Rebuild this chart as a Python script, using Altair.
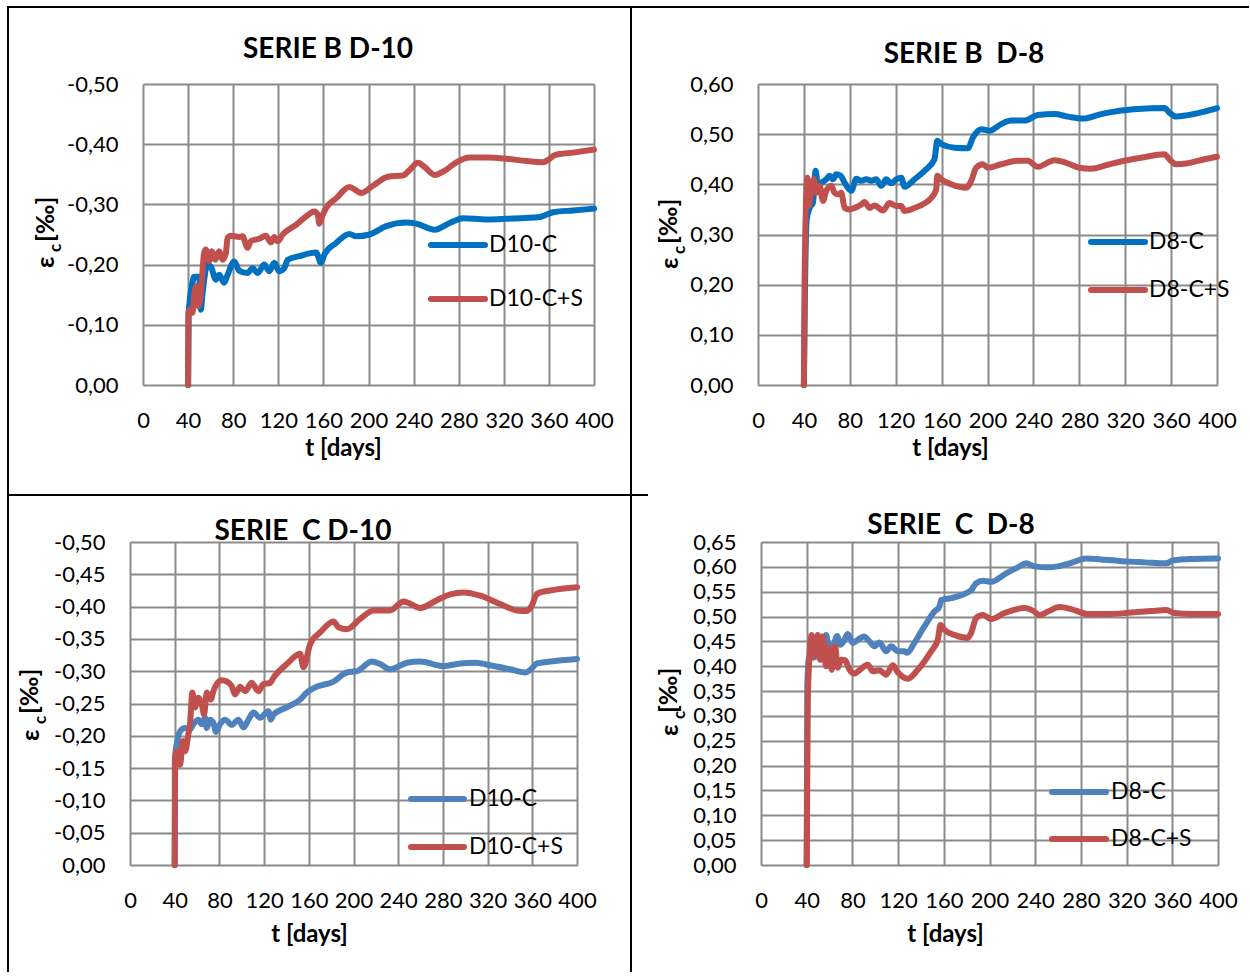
import altair as alt
import pandas as pd

FONT = "Lato"
GRID = "#8a8a8a"
BLUE_B = "#0070C0"
BLUE_C = "#4F81BD"
RED = "#C0504D"

X_TICKS = [0, 40, 80, 120, 160, 200, 240, 280, 320, 360, 400]

# ---------------- SERIE B D-10 ----------------
B10_NAMES = ["D10-C", "D10-C+S"]
B10_C_T = [40, 40.5, 43.9, 45.3, 49.8, 51.3, 52.7, 57.2, 60.1, 64.6, 67.6, 72, 75, 80.9, 85.3, 92.7, 97.2,
           101.6, 107.6, 112, 116.4, 120.9, 125.3, 128.3, 138.7, 153.5, 157.9, 160.9, 171.3, 183.1, 189,
           200.9, 215.7, 233.5, 242.4, 258.7, 272, 283.9, 304.6, 322, 352, 357.9, 363.9, 381.6, 400]
B10_C_E = [0, -0.12, -0.17, -0.18, -0.18, -0.125, -0.15, -0.20, -0.197, -0.175, -0.183, -0.17, -0.183,
           -0.205, -0.19, -0.186, -0.194, -0.186, -0.2, -0.189, -0.203, -0.189, -0.194, -0.208, -0.214,
           -0.22, -0.203, -0.217, -0.236, -0.251, -0.247, -0.25, -0.264, -0.27, -0.268, -0.258, -0.269,
           -0.277, -0.275, -0.276, -0.279, -0.283, -0.287, -0.29, -0.293]
B10_CS_T = [40, 40.3, 41.5, 43.9, 45.3, 47.4, 49.2, 51.3, 54.2, 55.7, 58.7, 61, 64, 67.6, 70.5, 73.5, 75,
            77.9, 85.3, 88.3, 92.7, 95.7, 103.1, 109, 113.5, 116.4, 119.4, 123.9, 135.7, 144.6, 152, 155,
            156.4, 158.8, 162.4, 171.3, 183.1, 193.5, 203.9, 217.2, 230.5, 236.4, 243.9, 249.8, 258.7,
            267.6, 277.9, 289.8, 304.6, 322.4, 340.1, 355, 359.4, 365.3, 381.6, 400]
B10_CS_E = [0, -0.12, -0.125, -0.12, -0.147, -0.164, -0.131, -0.153, -0.219, -0.225, -0.206, -0.222,
            -0.208, -0.222, -0.208, -0.219, -0.244, -0.248, -0.246, -0.247, -0.228, -0.239, -0.243,
            -0.248, -0.237, -0.246, -0.239, -0.25, -0.266, -0.28, -0.288, -0.283, -0.268, -0.28, -0.294,
            -0.31, -0.329, -0.319, -0.331, -0.346, -0.348, -0.357, -0.369, -0.362, -0.349, -0.356, -0.37,
            -0.378, -0.378, -0.376, -0.372, -0.37, -0.374, -0.382, -0.386, -0.391]
B10_Y_TICKS = [-0.5, -0.4, -0.3, -0.2, -0.1, 0.0]

# ---------------- SERIE B D-8 ----------------
B8_NAMES = ["D8-C", "D8-C+S"]
B8_C_T = [40, 41, 42.5, 45, 47.9, 50.2, 52.2, 55.2, 59.5, 62.4, 65.3, 68.2, 72, 75.5, 81.3, 85.6, 90, 94.3,
          98.7, 103, 107.4, 111.8, 116.1, 120.5, 124.8, 127.7, 136.4, 145.1, 153.8, 156.2, 159.7, 171.3,
          182.9, 187.2, 194.5, 201.7, 211.9, 220.6, 232.2, 243.8, 258.4, 270, 283, 299, 310.6, 330.9,
          354.2, 358.5, 364.3, 374.5, 389, 400]
B8_C_E = [0, 0.2, 0.33, 0.353, 0.363, 0.427, 0.397, 0.403, 0.41, 0.417, 0.41, 0.42, 0.417, 0.403, 0.387,
          0.411, 0.407, 0.41, 0.407, 0.41, 0.397, 0.41, 0.402, 0.41, 0.413, 0.395, 0.41, 0.427, 0.45, 0.487,
          0.48, 0.473, 0.472, 0.493, 0.51, 0.507, 0.52, 0.527, 0.527, 0.538, 0.54, 0.535, 0.531, 0.54,
          0.545, 0.55, 0.552, 0.543, 0.535, 0.538, 0.545, 0.552]
B8_CS_T = [40, 40.6, 43, 44.4, 46.4, 48.8, 50.8, 53.7, 56.6, 59.5, 63.9, 66.8, 69.7, 72.6, 75.5, 79.8, 84.2,
           90, 92.9, 97.2, 101.6, 108.9, 114.6, 120.5, 124.8, 127.7, 136.4, 151, 155.3, 156.2, 159.7,
           168.4, 181.4, 185.8, 190.1, 195.9, 200.3, 211.9, 226.4, 235.1, 243.8, 258.4, 268.5, 280.1,
           290.3, 304.8, 319.3, 333.8, 354.2, 358.5, 364.3, 374.5, 389, 400]
B8_CS_E = [0, 0.21, 0.413, 0.357, 0.39, 0.41, 0.383, 0.397, 0.367, 0.387, 0.397, 0.383, 0.38, 0.383, 0.353,
           0.35, 0.353, 0.36, 0.365, 0.353, 0.358, 0.348, 0.363, 0.357, 0.357, 0.347, 0.353, 0.373, 0.39,
           0.417, 0.41, 0.4, 0.393, 0.407, 0.433, 0.44, 0.433, 0.44, 0.447, 0.447, 0.435, 0.448, 0.443,
           0.433, 0.431, 0.439, 0.447, 0.453, 0.46, 0.45, 0.44, 0.442, 0.45, 0.455]
B8_Y_TICKS = [0.0, 0.1, 0.2, 0.3, 0.4, 0.5, 0.6]

# ---------------- SERIE C D-10 ----------------
C10_NAMES = ["D10-C", "D10-C+S"]
C10_C_T = [40, 40.5, 41.8, 44.8, 49.3, 53.7, 56.7, 61.2, 64.2, 67.2, 68.7, 71.6, 74.6, 77, 80.6, 85.1, 91,
           97, 101.5, 106, 110.5, 116.4, 123.9, 126, 128.4, 140.3, 152.2, 158.2, 165.7, 182.1, 194, 203,
           216.4, 223.9, 232.8, 247.8, 259.7, 280.6, 295.5, 308.9, 325.4, 340.3, 353.7, 358.2, 364.2,
           376.1, 400]
C10_C_E = [0, -0.17, -0.187, -0.207, -0.212, -0.21, -0.218, -0.225, -0.218, -0.228, -0.212, -0.225, -0.22,
           -0.206, -0.218, -0.225, -0.217, -0.225, -0.213, -0.225, -0.236, -0.228, -0.238, -0.225, -0.233,
           -0.244, -0.256, -0.267, -0.275, -0.284, -0.298, -0.3, -0.315, -0.311, -0.303, -0.313, -0.315,
           -0.308, -0.312, -0.313, -0.308, -0.303, -0.298, -0.302, -0.312, -0.315, -0.319]
C10_CS_T = [40, 40.2, 41.8, 44.8, 47.2, 49.3, 52.2, 53.7, 55.8, 58.2, 61.2, 64.2, 66.3, 68.7, 72.2, 74.6,
            77.6, 82.1, 86.6, 91, 94, 98.5, 103, 108.9, 114.9, 119.4, 125.4, 128.4, 140.3, 152.2, 155.2,
            161.2, 170.1, 182.1, 186.6, 194, 206, 217.9, 232.8, 244.8, 259.7, 274.6, 286.6, 298.5, 313.4,
            331.3, 346.3, 355.2, 359.7, 364.2, 376.1, 400]
C10_CS_E = [0, -0.166, -0.176, -0.155, -0.192, -0.176, -0.202, -0.218, -0.267, -0.244, -0.259, -0.249,
            -0.233, -0.267, -0.256, -0.269, -0.28, -0.286, -0.284, -0.277, -0.264, -0.276, -0.269, -0.282,
            -0.269, -0.28, -0.282, -0.29, -0.311, -0.327, -0.306, -0.342, -0.36, -0.377, -0.368, -0.365,
            -0.381, -0.394, -0.394, -0.408, -0.398, -0.41, -0.419, -0.422, -0.417, -0.404, -0.394, -0.393,
            -0.402, -0.42, -0.425, -0.43]
C10_Y_TICKS = [-0.5, -0.45, -0.4, -0.35, -0.3, -0.25, -0.2, -0.15, -0.1, -0.05, 0.0]

# ---------------- SERIE C D-8 ----------------
C8_NAMES = ["D8-C", "D8-C+S"]
C8_C_T = [40, 40.5, 42.3, 45.3, 48.2, 51.1, 54, 57, 59, 62.8, 66.6, 69.5, 72.4, 75.9, 80.3, 84.7, 90, 94.9,
          99.3, 103.6, 109.5, 113.9, 119.7, 125.5, 127.9, 134.3, 143, 151.8, 156.2, 157.7, 166.4, 179.6,
          184, 188.3, 194.2, 201.5, 214.6, 224.8, 232.1, 239.4, 251.1, 259.9, 271.5, 284.7, 297.8, 318.2,
          335.8, 354.7, 360.6, 376.6, 400]
C8_C_E = [0, 0.36, 0.42, 0.417, 0.419, 0.433, 0.427, 0.463, 0.443, 0.44, 0.461, 0.443, 0.45, 0.465, 0.447,
          0.453, 0.46, 0.45, 0.44, 0.448, 0.43, 0.44, 0.43, 0.43, 0.427, 0.447, 0.48, 0.51, 0.52, 0.533,
          0.537, 0.547, 0.553, 0.567, 0.572, 0.57, 0.587, 0.599, 0.607, 0.601, 0.599, 0.601, 0.608, 0.617,
          0.615, 0.611, 0.609, 0.607, 0.613, 0.616, 0.617]
C8_CS_T = [40, 40.9, 42.3, 44.4, 46.7, 49.6, 52, 54, 57, 59, 61.9, 64.8, 67.2, 70.1, 73.6, 77.4, 81.8, 86.1,
           93.4, 97.8, 103.6, 109.5, 115.3, 119.7, 128.5, 137.2, 148.9, 154.7, 157.1, 160.6, 169.3, 181,
           183.9, 188.3, 194.2, 201.5, 213.1, 230.7, 238, 243.8, 251.1, 261.3, 271.5, 286.1, 303.6, 324,
           341.5, 354.7, 362, 376.6, 400]
C8_CS_E = [0, 0.327, 0.413, 0.463, 0.42, 0.463, 0.413, 0.46, 0.4, 0.437, 0.393, 0.44, 0.397, 0.413, 0.412,
           0.393, 0.385, 0.392, 0.403, 0.39, 0.392, 0.383, 0.402, 0.388, 0.375, 0.393, 0.43, 0.453, 0.483,
           0.473, 0.463, 0.457, 0.467, 0.497, 0.503, 0.495, 0.507, 0.517, 0.512, 0.503, 0.51, 0.519, 0.515,
           0.505, 0.505, 0.508, 0.511, 0.513, 0.507, 0.505, 0.505]
C8_Y_TICKS = [0.0, 0.05, 0.1, 0.15, 0.2, 0.25, 0.3, 0.35, 0.4, 0.45, 0.5, 0.55, 0.6, 0.65]

LABEL_EXPR = "replace(replace(format(datum.value, '.2f'), '.', ','), '\u2212', '-')"
ONE = pd.DataFrame({"k": [0]})
LINE_W = 6


def panel(cfg):
    x0, y0 = cfg["origin"]
    W, H = cfg["size"]

    def rx(p):
        return p - x0

    def ry(p):
        return p - y0

    xaxis = alt.Axis(values=X_TICKS, format="d", grid=True, gridColor=GRID, gridWidth=2, gridOpacity=1,
                     domain=False, ticks=False, tickSize=0, labelFont=FONT, labelFontSize=22,
                     labelColor="black", labelPadding=25, labelFlush=False, labelOverlap=False,
                     title="t [days]", titleFont=FONT, titleFontSize=24, titleFontWeight="bold",
                     titleColor="black", titleX=rx(cfg["xtitle"][0]), titleY=cfg["xtitle"][1] - (y0 + H),
                     titleAlign="center", titleBaseline="alphabetic")
    yaxis = alt.Axis(values=cfg["yticks"], labelExpr=LABEL_EXPR, grid=True, gridColor=GRID, gridWidth=2,
                     gridOpacity=1, domain=False, ticks=False, tickSize=0, labelFont=FONT,
                     labelFontSize=22, labelColor="black", labelPadding=25, labelOverlap=False,
                     labelFlush=False, title=None)
    xs = alt.Scale(domain=[0, 400], nice=False, zero=False)
    ys = alt.Scale(domain=cfg["ydom"], nice=False, zero=False, reverse=cfg["reverse"])

    layers = []
    bx1, by1, bx2, by2 = cfg["box"]
    layers.append(alt.Chart(ONE).mark_rule(strokeOpacity=0, strokeWidth=1).encode(
        x=alt.value(rx(bx1)), x2=alt.value(rx(bx2)), y=alt.value(ry(by1)), y2=alt.value(ry(by2))))
    for (px1, py1, px2, py2) in cfg["borders"]:
        layers.append(alt.Chart(ONE).mark_rect(color="black").encode(
            x=alt.value(rx(px1)), x2=alt.value(rx(px2)), y=alt.value(ry(py1)), y2=alt.value(ry(py2))))

    for name, t, e, col in cfg["series"]:
        df = pd.DataFrame({"t": t, "e": e})
        layers.append(alt.Chart(df).mark_line(color=col, strokeWidth=LINE_W, interpolate="monotone",
                                              strokeCap="round", strokeJoin="round").encode(
            x=alt.X("t:Q", scale=xs, axis=xaxis),
            y=alt.Y("e:Q", scale=ys, axis=yaxis)))

    tx, ty = cfg["title_pos"]
    layers.append(alt.Chart(ONE).mark_text(text=cfg["title"], font=FONT, fontSize=28, fontWeight="bold",
                                           align="center", baseline="alphabetic", color="black").encode(
        x=alt.value(rx(tx)), y=alt.value(ry(ty))))

    # y axis title: epsilon with subscript c and [‰], rotated
    (ex, ey), (cx, cy), (bx, by) = cfg["ytitle"]
    for txt, size, px, py in [("ε", 25, ex, ey), ("c", 17, cx, cy), ("[‰]", 25, bx, by)]:
        layers.append(alt.Chart(ONE).mark_text(text=txt, font=FONT, fontSize=size, fontWeight="bold",
                                               angle=270, align="left", baseline="alphabetic",
                                               color="black").encode(
            x=alt.value(rx(px)), y=alt.value(ry(py))))

    # legend
    lx1, lx2, ltx = cfg["legend_x"]
    for (name, t, e, col), ly in zip(cfg["series"], cfg["legend_y"]):
        layers.append(alt.Chart(ONE).mark_rule(color=col, strokeWidth=LINE_W, strokeCap="round").encode(
            x=alt.value(rx(lx1)), x2=alt.value(rx(lx2)), y=alt.value(ry(ly))))
        layers.append(alt.Chart(ONE).mark_text(text=name, font=FONT, fontSize=23, align="left",
                                               baseline="middle", color="black").encode(
            x=alt.value(rx(ltx)), y=alt.value(ry(ly))))

    return alt.layer(*layers).properties(width=W, height=H)


def spacer():
    return alt.Chart(ONE).mark_rule(strokeOpacity=0, strokeWidth=1).encode(
        x=alt.value(0), x2=alt.value(1), y=alt.value(0)).properties(width=1, height=1)


TL = panel(dict(
    origin=(143, 84), size=(451, 301), box=(1, 0, 630, 494),
    borders=[(7, 6, 630, 8), (7, 6, 9, 494)],
    series=[(B10_NAMES[0], B10_C_T, B10_C_E, BLUE_B), (B10_NAMES[1], B10_CS_T, B10_CS_E, RED)],
    ydom=[-0.5, 0], reverse=True, yticks=B10_Y_TICKS,
    title="SERIE B D-10", title_pos=(328, 58), xtitle=(343, 455),
    ytitle=((54, 268), (61, 252), (54, 242)),
    legend_x=(431, 485, 489), legend_y=[245, 299]))

TR = panel(dict(
    origin=(758, 84), size=(459, 301), box=(630, 0, 1249, 494),
    borders=[(630, 6, 1249, 8), (630, 6, 632, 494)],
    series=[(B8_NAMES[0], B8_C_T, B8_C_E, BLUE_B), (B8_NAMES[1], B8_CS_T, B8_CS_E, RED)],
    ydom=[0, 0.6], reverse=False, yticks=B8_Y_TICKS,
    title="SERIE B\u00a0 D-8", title_pos=(964, 63), xtitle=(950, 455),
    ytitle=((678, 269), (685, 254), (677, 244)),
    legend_x=(1091, 1145, 1149), legend_y=[242, 290]))

BL = panel(dict(
    origin=(130, 542), size=(447, 323), box=(1, 494, 630, 972),
    borders=[(7, 494, 9, 972), (7, 494, 630, 496)],
    series=[(C10_NAMES[0], C10_C_T, C10_C_E, BLUE_C), (C10_NAMES[1], C10_CS_T, C10_CS_E, RED)],
    ydom=[-0.5, 0], reverse=True, yticks=C10_Y_TICKS,
    title="SERIE\u00a0 C D-10", title_pos=(303, 540), xtitle=(309, 941),
    ytitle=((39, 741), (46, 724), (38, 714)),
    legend_x=(411, 464, 469), legend_y=[799, 847]))

BR = panel(dict(
    origin=(761, 542), size=(457, 323), box=(630, 494, 1249, 972),
    borders=[(630, 494, 632, 972), (630, 494, 648, 496)],
    series=[(C8_NAMES[0], C8_C_T, C8_C_E, BLUE_C), (C8_NAMES[1], C8_CS_T, C8_CS_E, RED)],
    ydom=[0, 0.65], reverse=False, yticks=C8_Y_TICKS,
    title="SERIE\u00a0 C\u00a0 D-8", title_pos=(951, 534), xtitle=(945, 941),
    ytitle=((678, 736), (685, 719), (677, 713)),
    legend_x=(1052, 1106, 1111), legend_y=[792, 839]))

top = alt.hconcat(spacer(), TL, TR, spacing=0)
bottom = alt.hconcat(spacer(), BL, BR, spacing=0)
chart = alt.vconcat(top, bottom, spacing=0).properties(padding=0).configure_view(stroke=None)

chart.save("out.html", embed_options={"renderer": "svg", "actions": False})
